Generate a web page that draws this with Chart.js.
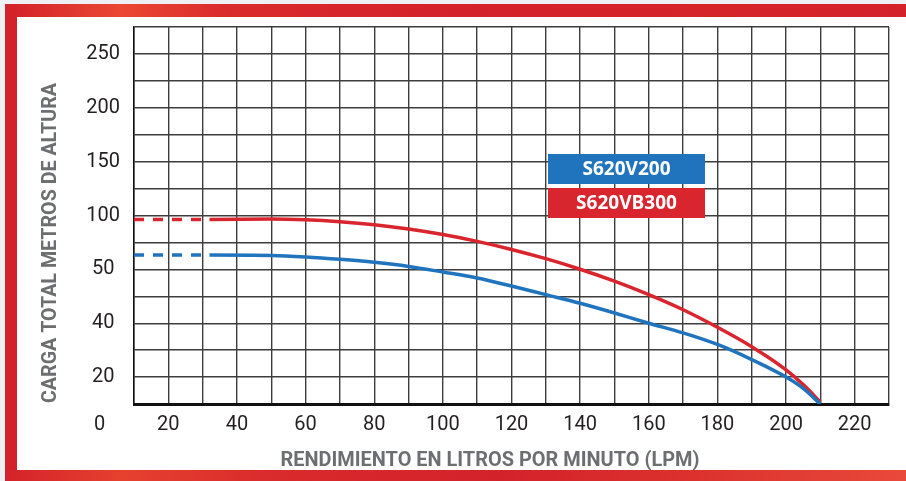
<!DOCTYPE html>
<html>
<head>
<meta charset="utf-8">
<script src="https://cdn.jsdelivr.net/npm/chart.js@4"></script>
<style>
  html, body { margin: 0; padding: 0; background: #eef0f3; }
  #wrap { position: relative; width: 906px; height: 481px; overflow: hidden; }
  .bar { position: absolute; }
  #inner { position: absolute; left: 17px; top: 17px; right: 0; bottom: 11px; background: #fff; }
  #top { left: 5px; top: 4px; right: 0; height: 13px;
    background: linear-gradient(90deg, #d3202a 0%, #e03a30 8%, #eb4733 13%, #d92a2c 25%, #d4222a 50%, #d62529 80%, #d4222a 100%); }
  #left { left: 5px; top: 4px; width: 12px; bottom: 0; background: #d4222a; }
  #bottom { left: 5px; bottom: 0; right: 0; height: 11px;
    background: linear-gradient(90deg, #d4222a 0%, #e6412f 13%, #d92a2c 30%, #d4222a 55%, #db302d 75%, #e9493a 100%); }
  canvas { position: absolute; left: 0; top: 0; }
</style>
</head>
<body>
<div id="wrap">
  <div id="inner"></div>
  <div class="bar" id="top"></div>
  <div class="bar" id="left"></div>
  <div class="bar" id="bottom"></div>
  <canvas id="pumpChart" width="906" height="481"></canvas>
</div>
<script>
// Flow (LPM) where the curves were read
const lpm = [10, 32, 50, 60, 70, 80, 90, 100, 110, 120, 130, 140, 150, 160, 170, 180, 190, 200, 205, 210];
// Head readings for each pump (first step is the dashed part)
const headV200 = [63.3, 63.3, 62.9, 61.5, 59.3, 56.5, 52.7, 49.5, 48.4, 46.9, 45.3, 43.7, 41.9, 40.0, 36.4, 32.1, 26.5, 20.0, 15.8, 10];
const headVB300 = [96.3, 96.3, 96.8, 96.0, 94.2, 91.4, 87.4, 82.3, 76.0, 68.5, 59.9, 50.1, 47.8, 45.3, 42.5, 38.5, 31.3, 22.7, 17.2, 10.7];
const seriesNames = ["S620V200", "S620VB300"];

// Axis ticks (the printed height axis is not linear)
const xTickValues = [0, 10, 20, 30, 40, 50, 60, 70, 80, 90, 100, 110, 120, 130, 140, 150, 160, 170, 180, 190, 200, 210, 220, 230];
const xTickLabels = ["0", "20", "40", "60", "80", "100", "120", "140", "160", "180", "200", "220"];
const yTickValues = [10, 20, 30, 40, 45, 50, 75, 100, 125, 150, 175, 200, 225, 250, 275];
const yTickLabels = ["250", "200", "150", "100", "50", "40", "20"];

const xTitle = "RENDIMIENTO EN LITROS POR MINUTO (LPM)";
const yTitle = "CARGA TOTAL METROS DE ALTURA";

// Scale that gives every grid step the same height, like the printed chart
class StepScale extends Chart.LinearScale {
  buildTicks() {
    return yTickValues.map(v => ({ value: v }));
  }
  getPixelForValue(value) {
    const g = yTickValues;
    const n = g.length - 1;
    let i = 0;
    while (i < n - 1 && value > g[i + 1]) i++;
    const dec = (i + (value - g[i]) / (g[i + 1] - g[i])) / n;
    return this.getPixelForDecimal(dec);
  }
  getValueForPixel(pixel) {
    const g = yTickValues;
    const n = g.length - 1;
    const pos = this.getDecimalForPixel(pixel) * n;
    const i = Math.max(0, Math.min(n - 1, Math.floor(pos)));
    return g[i] + (pos - i) * (g[i + 1] - g[i]);
  }
}
StepScale.id = "step";
StepScale.defaults = {};
Chart.register(StepScale);

const gridColor = "#3d3d3d";
const tickFont = { family: "Roboto, sans-serif", size: 20 };

// Colored boxes with the model names
const boxLegend = {
  id: "boxLegend",
  afterDraw(chart) {
    const { ctx } = chart;
    chart.data.datasets.forEach((ds, i) => {
      const x = 548, y = 154 + i * 34, w = 157, h = 30;
      ctx.save();
      ctx.fillStyle = ds.borderColor;
      ctx.fillRect(x, y, w, h);
      ctx.fillStyle = "#ffffff";
      ctx.font = "bold 19px 'Open Sans', sans-serif";
      ctx.textAlign = "center";
      ctx.textBaseline = "middle";
      ctx.fillText(ds.label, x + w / 2, y + h / 2 + 1);
      ctx.restore();
    });
  },
};

// Axis titles in a condensed bold style
function drawFitted(ctx, text, cx, cy, width, rotate) {
  ctx.save();
  ctx.translate(cx, cy);
  if (rotate) ctx.rotate(-Math.PI / 2);
  ctx.font = "bold 20px Roboto, sans-serif";
  const s = width / ctx.measureText(text).width;
  ctx.scale(s, 1);
  ctx.fillStyle = "#6d6e71";
  ctx.textAlign = "center";
  ctx.textBaseline = "middle";
  ctx.fillText(text, 0, 0);
  ctx.restore();
}

const axisTitles = {
  id: "axisTitles",
  afterDraw(chart) {
    drawFitted(chart.ctx, xTitle, 490, 461, 419, false);
    drawFitted(chart.ctx, yTitle, 51, 243, 320, true);
  },
};

const dashFirst = c => (c.p1DataIndex <= 1 ? [10, 9] : undefined);

const ctx = document.getElementById("pumpChart").getContext("2d");
new Chart(ctx, {
  type: "line",
  data: {
    datasets: [
      {
        label: seriesNames[0],
        data: lpm.map((x, i) => ({ x: x, y: headV200[i] })),
        borderColor: "#1f74bd",
        borderWidth: 3.5,
        pointRadius: 0,
        cubicInterpolationMode: "monotone",
        segment: { borderDash: dashFirst },
      },
      {
        label: seriesNames[1],
        data: lpm.map((x, i) => ({ x: x, y: headVB300[i] })),
        borderColor: "#d9252e",
        borderWidth: 3.5,
        pointRadius: 0,
        cubicInterpolationMode: "monotone",
        segment: { borderDash: dashFirst },
      },
    ],
  },
  options: {
    responsive: false,
    animation: false,
    layout: { padding: { left: 0, right: 17, top: 27, bottom: 0 } },
    plugins: { legend: { display: false }, tooltip: { enabled: false } },
    scales: {
      x: {
        type: "linear",
        min: 10,
        max: 230,
        afterBuildTicks: scale => {
          scale.ticks = xTickValues.map(v => ({ value: v }));
        },
        afterFit: scale => {
          scale.height = 77;
        },
        grid: {
          color: c => (c.tick && c.tick.value === 0 ? "rgba(0,0,0,0)" : gridColor),
          lineWidth: 1.4,
          drawTicks: false,
        },
        border: { display: true, color: "#111", width: 3 },
        ticks: {
          autoSkip: false,
          maxRotation: 0,
          padding: 9,
          color: "#231f20",
          font: tickFont,
          callback: v => (xTickLabels.includes(String(v)) ? String(v) : ""),
        },
      },
      y: {
        type: "step",
        min: 10,
        max: 275,
        afterFit: scale => {
          scale.width = 134;
        },
        grid: { color: gridColor, lineWidth: 1.4, drawTicks: false },
        border: { display: true, color: "#111", width: 1.5 },
        ticks: {
          autoSkip: false,
          crossAlign: "center",
          padding: 14,
          color: "#231f20",
          font: tickFont,
          callback: v => (yTickLabels.includes(String(v)) ? String(v) : ""),
        },
      },
    },
  },
  plugins: [boxLegend, axisTitles],
});
</script>
</body>
</html>
